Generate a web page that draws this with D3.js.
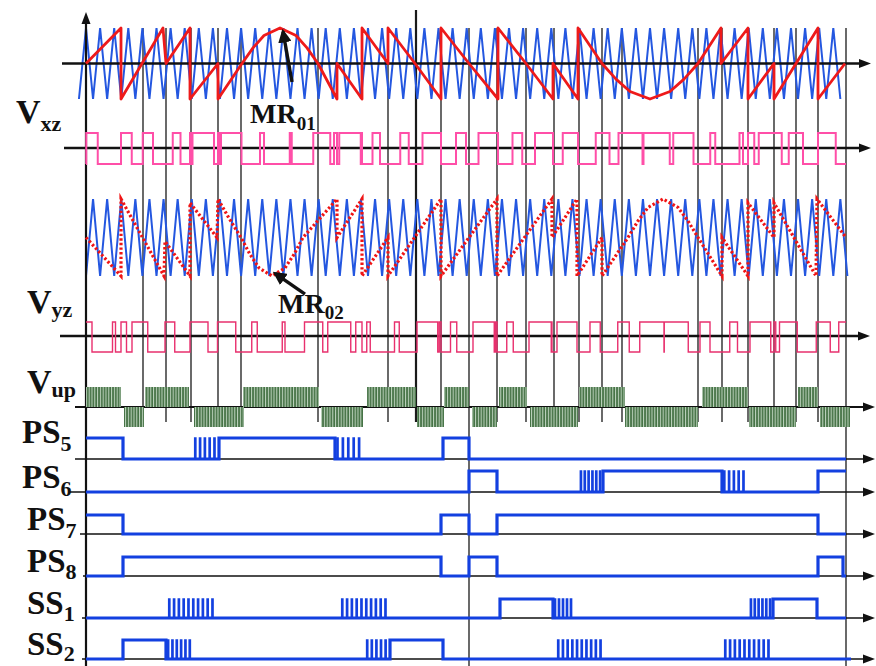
<!DOCTYPE html>
<html><head><meta charset="utf-8">
<script src="https://cdn.jsdelivr.net/npm/d3@7"></script>
<style>
body{margin:0;background:#fff}
svg{display:block}
text{font-family:"Liberation Serif","Times New Roman",serif;font-weight:bold;fill:#111}
</style>
</head><body>
<svg id="c" width="876" height="666"></svg>
<script>
// ================= DATA =================
const timeDomain = [0, 760];
// sector boundary instants (vertical guide lines)
const sectorLines = [57,80,105,132,155,232,302,330,355,383,411,440,468,493,516,536,612,636,662,688,710,732,760];
const fullLines = [383, 760];
const tallLine = 330;

// triangular carriers
const carrier1 = {start: -7.05, period: 14.1, cycles: 54};
const carrier2 = {start: 0, period: 14.1, cycles: 54};
// switching comparison carriers (every other carrier cycle)
const switchCarrier1 = {start: -7.05, period: 28.2, cycles: 27};
const switchCarrier2 = {start: 0, period: 28.2, cycles: 27};

// modulating signal MR01 [t, value]
const mr01 = [[0,0],[35,1],[35,-1],[77,1],[80,0],[104,1],[104,-1],[132,0],[132,-1],[156,0],[167,0.44],[178,0.79],[194,1],[210,0.79],[221,0.44],[232,0],[251,-1],[251,0],[276,-1],[276,1],[302,0],[302,1],[329,0],[355,-1],[355,1],[383,0],[412,-1],[412,1],[440,0],[467,-1],[467,0],[492,-1],[492,1],[516,0],[530,-0.44],[544,-0.79],[564,-1],[584,-0.79],[598,-0.44],[612,0],[635,1],[635,0],[662,1],[662,-1],[688,0],[688,-1],[732,1],[732,-1],[759,0]];
// modulating signal MR02 [t, value]
const mr02 = [[0,0],[35,-1],[35,1],[78,-1],[79,-0.1],[104,-1],[104,0.9],[131,0],[132,1],[143,0.5],[155,0],[164,-0.44],[173,-0.79],[186,-1],[199,-0.79],[208,-0.44],[217,0],[251,1],[251,0],[276,1],[276,-1],[302,0],[302,-1],[355,1],[355,-1],[383,0],[411,1],[411,-1],[466,1],[466,0],[491,1],[491,-1],[516,0],[516,-1],[529,-0.5],[542,0],[552,0.43],[562,0.78],[577,1],[592,0.78],[602,0.43],[612,0],[636,-1],[636,0],[662,-1],[662,0.9],[688,0],[688,0.9],[730,-1],[731,1],[760,0]];

// Vup positive / negative blocks [from, to]
const vupPos = [[0,35],[59,103],[157,233],[281,330],[358,383],[413,441],[493,539],[616,662],[712,732]];
const vupNeg = [[38,58],[108,158],[235,277],[331,358],[386,411],[444,492],[539,612],[663,710],[734,764]];

// switching signals: step changes [t, level] and bursts [from, to, count]
const ps5 = [[0,1],[37,0],[133,1],[249,0],[357,1],[383,0],[760,0]];
const ps5Bursts = [[107,131,5],[249,276,5]];
const ps6 = [[0,0],[383,1],[411,0],[517,1],[636,0],[732,1],[760,1]];
const ps6Bursts = [[493,516,6],[636,660,5]];
const ps7 = [[0,1],[37,0],[355,1],[383,0],[411,1],[732,0],[760,0]];
const ps7Bursts = [];
const ps8 = [[0,0],[37,1],[355,0],[383,1],[411,0],[732,1],[757,0],[760,0]];
const ps8Bursts = [];
const ss1 = [[0,0],[414,1],[467,0],[687,1],[731,0],[760,0]];
const ss1Bursts = [[81,129,10],[254,302,10],[467,487,5],[663,686,6]];
const ss2 = [[0,0],[37,1],[80,0],[304,1],[357,0],[765,0]];
const ss2Bursts = [[80,106,6],[279,302,5],[470,517,10],[637,685,10]];

const signalNames = ["PS","PS","PS","PS","SS","SS"];
const signalSubs = ["5","6","7","8","1","2"];

// ================= DRAW =================
const svg = d3.select('#c');
const x = d3.scaleLinear().domain(timeDomain).range([86, 846]);
const y1 = d3.scaleLinear().domain([-1,1]).range([99,28]);
const y3 = d3.scaleLinear().domain([-1,1]).range([276,199]);
const yVxz = d3.scaleLinear().domain([0,1]).range([164,133]);
const yVyz = d3.scaleLinear().domain([0,1]).range([352,322]);
const yVup = d3.scaleLinear().domain([-1,1]).range([427,387]);
const digBase = [459,492,534,576,618,659];
const digHigh = [438,471,515,557,599,640];

const defs = svg.append('defs');
const pat = defs.append('pattern').attr('id','stripe').attr('patternUnits','userSpaceOnUse').attr('width',2.8).attr('height',40);
pat.append('rect').attr('width',2.8).attr('height',40).attr('fill','#bcd2bc');
pat.append('rect').attr('x',0.2).attr('width',1.6).attr('height',40).attr('fill','#3b6a3b');
defs.append('marker').attr('id','ah').attr('viewBox','0 0 10 10').attr('refX',8).attr('refY',5)
  .attr('markerWidth',4).attr('markerHeight',4).attr('orient','auto')
  .append('path').attr('d','M0,0 L10,5 L0,10 Z').attr('fill','#111');

function interp(pts, t){
  for(let i=0;i<pts.length-1;i++){
    const a=pts[i], b=pts[i+1];
    if(t>=a[0] && t<b[0]) return a[1]+(b[1]-a[1])*(t-a[0])/(b[0]-a[0]);
  }
  return pts[pts.length-1][1];
}
function carrierVal(c,t){ let p=((t-c.start)/c.period)%1; if(p<0)p+=1; return p<0.5? -1+4*p : 3-4*p; }
function carrierPts(c){ const pts=[]; for(let k=0;k<=2*c.cycles;k++) pts.push([c.start+k*c.period/2, k%2?1:-1]); return pts; }
function pwm(mod, car, highWhenCarrierAbove){
  const out=[]; let prev=null;
  for(let t=0;t<=760;t+=0.25){
    const m=interp(mod,t), c=carrierVal(car,t);
    let l = highWhenCarrierAbove ? (c>m?1:0) : (m>c?1:0);
    if(l!==prev){out.push([t,l]);prev=l;}
  }
  out.push([760,prev]); return out;
}

// vertical guide lines
const gl = svg.append('g');
sectorLines.forEach(t=>{
  const full = fullLines.includes(t);
  gl.append('line').attr('x1',x(t)).attr('x2',x(t))
    .attr('y1', t===tallLine?10:28).attr('y2', full?666:422)
    .attr('stroke','#1a1a1a').attr('stroke-width', t===tallLine?2.2:1.3);
});

// carriers
const lineGen = (ys)=>d3.line().x(d=>x(d[0])).y(d=>ys(d[1]));
svg.append('path').attr('d',lineGen(y1)(carrierPts(carrier1))).attr('fill','none').attr('stroke','#2457e0').attr('stroke-width',2);
svg.append('path').attr('d',lineGen(y3)(carrierPts(carrier2))).attr('fill','none').attr('stroke','#2457e0').attr('stroke-width',2);

// axes
const axes = [
  {y:63.5,x0:62,x1:871,w:2.4},{y:148,x0:64,x1:871,w:2.4},{y:336,x0:60,x1:870,w:2.4},
  {y:407,x0:75,x1:875,w:2},
  {y:459,x0:75,x1:875,w:1.6},{y:492,x0:70,x1:875,w:1.6},{y:534,x0:80,x1:875,w:1.6},
  {y:576,x0:83,x1:875,w:1.6},{y:618,x0:82,x1:875,w:1.6},{y:659,x0:82,x1:875,w:1.6}
];
axes.forEach(a=>{
  svg.append('line').attr('x1',a.x0).attr('x2',a.x1-6).attr('y1',a.y).attr('y2',a.y).attr('stroke','#111').attr('stroke-width',a.w);
  svg.append('path').attr('d',`M${a.x1},${a.y} L${a.x1-12},${a.y-4.5} L${a.x1-12},${a.y+4.5} Z`).attr('fill','#111');
});
// y axis
svg.append('line').attr('x1',86).attr('x2',86).attr('y1',20).attr('y2',666).attr('stroke','#111').attr('stroke-width',2.2);
svg.append('path').attr('d','M86,12 L81.5,24 L90.5,24 Z').attr('fill','#111');

// modulating signals
svg.append('path').attr('d',lineGen(y1)(mr01)).attr('fill','none').attr('stroke','#ee1a1a').attr('stroke-width',2.8).attr('stroke-linejoin','round');
svg.append('path').attr('d',lineGen(y3)(mr02)).attr('fill','none').attr('stroke','#f01414').attr('stroke-width',3.2).attr('stroke-dasharray','2.4,2.2');

// PWM pulse trains
const step = (ys)=>d3.line().x(d=>x(d[0])).y(d=>ys(d[1])).curve(d3.curveStepAfter);
svg.append('path').attr('d',step(yVxz)(pwm(mr01,switchCarrier1,true))).attr('fill','none').attr('stroke','#ff4fa8').attr('stroke-width',2);
svg.append('path').attr('d',step(yVyz)(pwm(mr02,switchCarrier2,false))).attr('fill','none').attr('stroke','#e8306e').attr('stroke-width',1.4);

// Vup blocks
vupPos.forEach(d=>svg.append('rect').attr('x',x(d[0])).attr('width',x(d[1])-x(d[0])).attr('y',yVup(1)).attr('height',yVup(0)-yVup(1)).attr('fill','url(#stripe)'));
vupNeg.forEach(d=>svg.append('rect').attr('x',x(d[0])).attr('width',x(d[1])-x(d[0])).attr('y',yVup(0)).attr('height',yVup(-1)-yVup(0)).attr('fill','url(#stripe)'));

// switching signals
const sigs = [[ps5,ps5Bursts],[ps6,ps6Bursts],[ps7,ps7Bursts],[ps8,ps8Bursts],[ss1,ss1Bursts],[ss2,ss2Bursts]];
sigs.forEach((s,i)=>{
  const ys = d3.scaleLinear().domain([0,1]).range([digBase[i],digHigh[i]]);
  svg.append('path').attr('d',step(ys)(s[0])).attr('fill','none').attr('stroke','#1340e0').attr('stroke-width',3.2);
  s[1].forEach(b=>{
    const [a,e,n]=b; const w=(e-a)/n;
    for(let k=0;k<n;k++){
      const tt=a+(k+0.35)*w;
      svg.append('path').attr('d',`M${x(tt)},${ys(0)} V${ys(1)} H${x(tt)+1.2} V${ys(0)}`)
        .attr('fill','none').attr('stroke','#1340e0').attr('stroke-width',1.5);
    }
  });
});

// labels
function label(px,py,main,sub,size,subSize,dy){
  const t=svg.append('text').attr('x',px).attr('y',py).style('font-size',size+'px').text(main);
  t.append('tspan').attr('dy',dy).style('font-size',subSize+'px').text(sub);
}
label(16,123,'V','xz',34,22,8);
label(27,313,'V','yz',34,22,4);
label(27,393,'V','up',34,22,4);
const lx=[22,22,27,27,27,27], lb=[443,488,530,572,614,655], ld=[8,8,8,7,7,6];
signalNames.forEach((n,i)=>label(lx[i],lb[i],n,signalSubs[i],33,22,ld[i]));
label(250,123,'MR','01',28,19,7);
label(278,313,'MR','02',28,19,6);

// annotation arrows
const ann = [
  {from:[206,-0.52], to:[197,0.9], ys:y1},
  {from:[219,-1.47], to:[189,-0.93], ys:y3}
];
ann.forEach(a=>{
  svg.append('line').attr('x1',x(a.from[0])).attr('y1',a.ys(a.from[1])).attr('x2',x(a.to[0])).attr('y2',a.ys(a.to[1]))
    .attr('stroke','#111').attr('stroke-width',3.4).attr('marker-end','url(#ah)');
});
</script>
</body></html>
